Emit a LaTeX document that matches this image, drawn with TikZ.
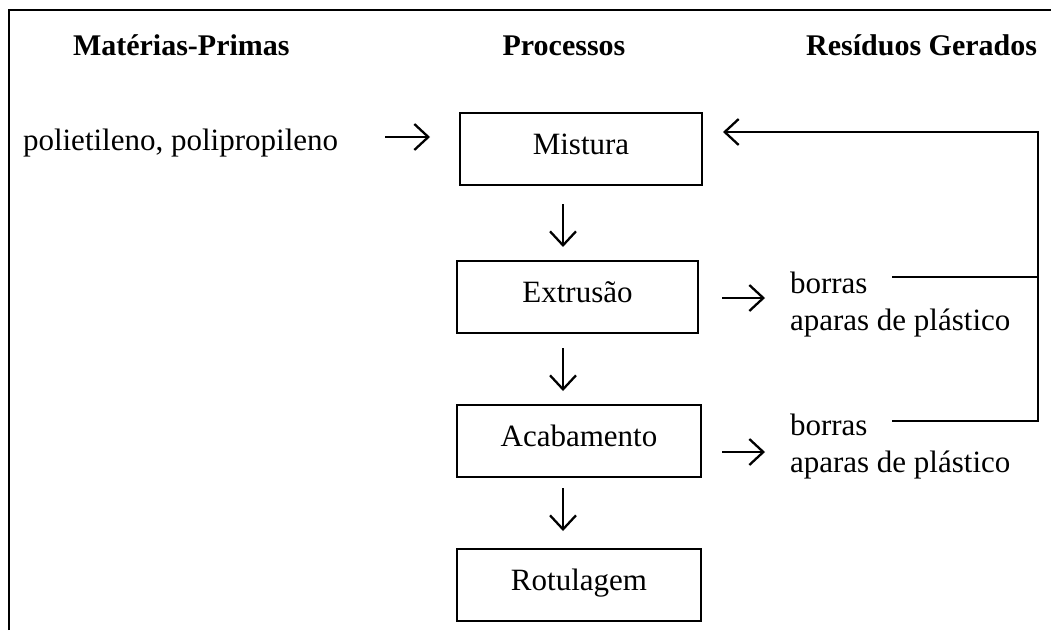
\documentclass[tikz,border=0pt]{standalone}
\usepackage{fontspec}
\setmainfont{Liberation Serif}
\usetikzlibrary{arrows.meta,calc}
\begin{document}
\begin{tikzpicture}[x=1pt,y=-1pt,
  every node/.style={font=\fontsize{31}{36}\selectfont, inner sep=0pt, outer sep=0pt},
  head/.style={font=\fontsize{30}{36}\selectfont\bfseries},
  procbox/.style={draw, line width=1.6pt, minimum width=242pt, minimum height=72pt,
    text height=20pt, text depth=10pt},
  arr/.style={line width=1.8pt, -{Straight Barb[length=14pt,width=26pt,line width=2.3pt]}},
  link/.style={line width=1.1pt}
]
\useasboundingbox (0,0) rectangle (1051,630);
% outer frame (left and top edges)
\draw[line width=2pt] (9,630) -- (9,10) -- (1051,10);

% column headings
\node[head, anchor=base west] (hraw) at (73,55) {Matérias-Primas};
\node[head, anchor=base] (hproc) at (564,55) {Processos};
\node[head, anchor=base east] (hres) at (1037,55) {Resíduos Gerados};

% raw material
\node[anchor=base west] (raw) at (23,150) {polietileno, polipropileno};

% process steps
\node[procbox] (mix) at (581,149) {Mistura};
\node[procbox, minimum width=241pt] (ext) at (577.5,297) {Extrusão};
\node[procbox, minimum width=244pt] (aca) at (579,441) {Acabamento};
\node[procbox, minimum width=244pt] (rot) at (579,585) {Rotulagem};

% residues
\node[anchor=base west] (b1) at (790,293) {borras};
\node[anchor=base west] (p1) at (790,330) {aparas de plástico};
\node[anchor=base west] (b2) at (790,435) {borras};
\node[anchor=base west] (p2) at (790,472) {aparas de plástico};

% flow arrows
\coordinate (ax) at (563,0);
\draw[arr, shorten <=47pt, shorten >=30pt] (raw.east |- 0,137) -- (mix.west |- 0,137);
\draw[arr, shorten <=19pt, shorten >=14pt] (mix.south -| ax) -- (ext.north -| ax);
\draw[arr, shorten <=15pt, shorten >=14pt] (ext.south -| ax) -- (aca.north -| ax);
\draw[arr, shorten <=11pt, shorten >=18pt] (aca.south -| ax) -- (rot.north -| ax);
\draw[arr, shorten <=24pt, shorten >=25pt] (ext.east |- 0,298) -- (b1.west |- 0,298);
\draw[arr, shorten <=21pt, shorten >=25pt] (aca.east |- 0,452) -- (b2.west |- 0,452);

% recycling loop back to the mixer
\coordinate (fb) at (1038,132);
\draw[link, shorten <=25pt] (b1.east |- 0,277) -- (fb |- 0,277);
\draw[link, shorten <=25pt] (b2.east |- 0,421) -- (fb |- 0,421) -- (fb)
  -- ($(mix.east |- fb)+(48,0)$);
\draw[arr, shorten >=21pt] ($(mix.east |- fb)+(111,0)$) -- (mix.east |- fb);
\end{tikzpicture}
\end{document}
